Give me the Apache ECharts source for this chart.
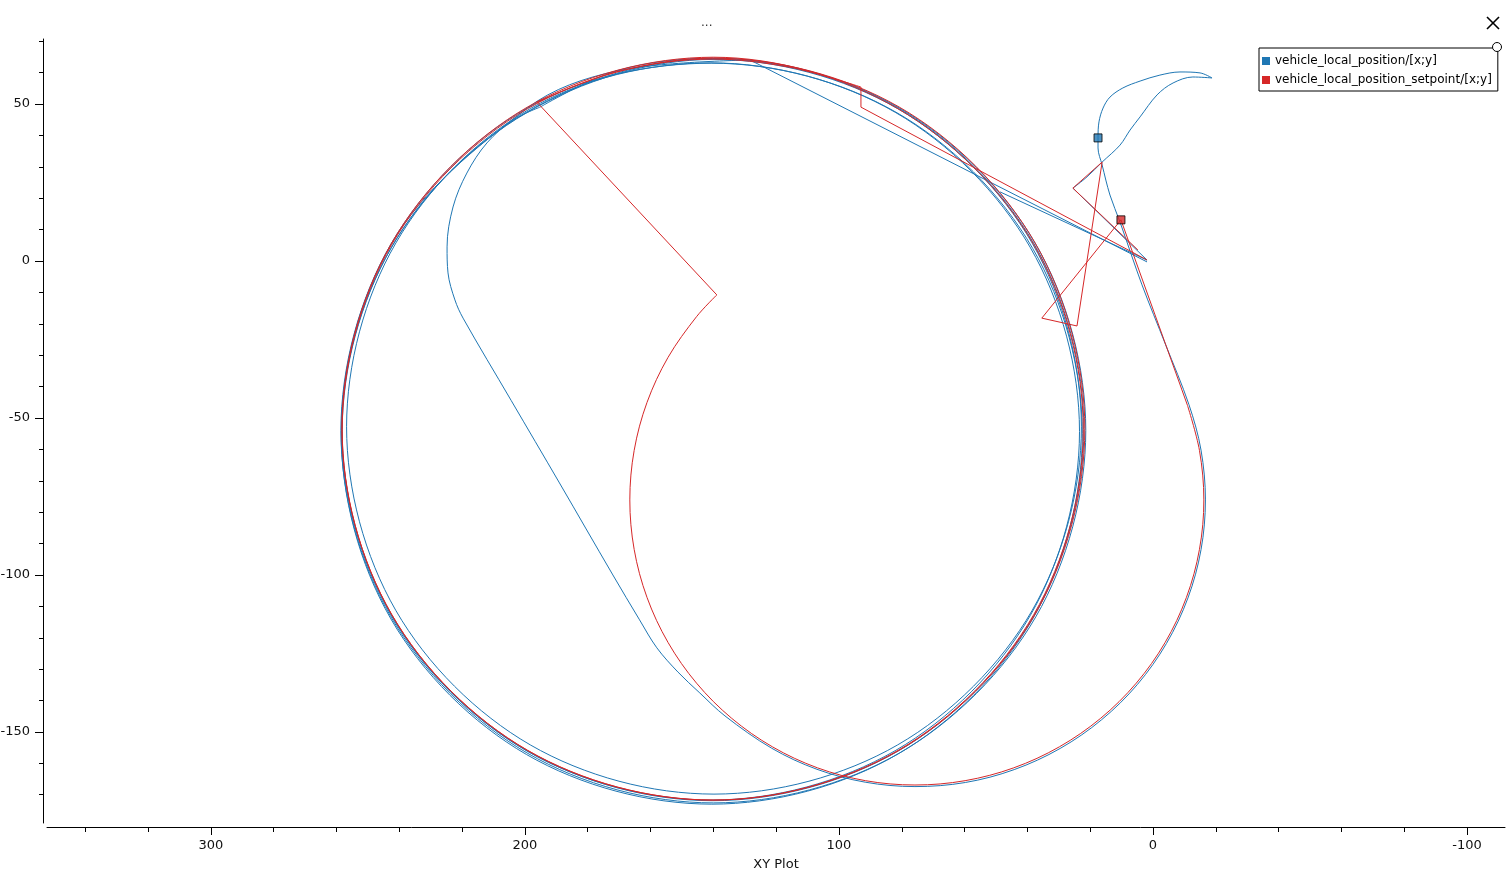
<!DOCTYPE html>
<html><head><meta charset="utf-8">
<script src="https://cdn.jsdelivr.net/npm/echarts@6/dist/echarts.min.js"></script>
<style>html,body{margin:0;padding:0;background:#fff}#c{width:1507px;height:880px}</style>
</head><body><div id="c"></div>
<script>
// ---- tick labels ----
const xMajor = [-100, 0, 100, 200, 300];
const xMinor = [-80, -60, -40, -20, 20, 40, 60, 80, 120, 140, 160, 180, 220, 240, 260, 280, 320, 340];
const yMajor = [-150, -100, -50, 0, 50];
const yMinor = [-170, -160, -140, -130, -120, -110, -90, -80, -70, -60, -40, -30, -20, -10, 10, 20, 30, 40, 60, 70];
const seriesNames = ['vehicle_local_position/[x;y]', 'vehicle_local_position_setpoint/[x;y]'];

// ---- vehicle_local_position (blue) ----
const blueApproach = [[1.9, -0.3], [128.3, 64.0]];
const blueOrbit = [
  [128.3, 64.0], [170.8, 60.5],
  [199.3, 48.66], [242.56, 5.4], [258.4, -53.7], [242.56, -112.8], [199.3, -156.06], [140.2, -171.9], [81.1, -156.06], [37.84, -112.8],
  [22.0, -53.7], [37.84, 5.4], [81.1, 48.66], [140.2, 64.5],
  [199.5, 47.37], [242.47, 4.4], [258.2, -54.3], [242.47, -113.0], [199.5, -155.97], [140.8, -171.7], [82.1, -155.97], [39.13, -113.0],
  [23.4, -54.3], [39.13, 4.4], [82.1, 47.37], [140.8, 63.1],
  [198.3, 48.52], [241.12, 5.7], [256.8, -52.8], [241.12, -111.3], [198.3, -154.12], [139.8, -169.8], [81.3, -154.12], [38.48, -111.3],
  [22.8, -52.8], [38.48, 5.7], [81.3, 48.52], [139.8, 64.2],
  [199.5, 47.19], [242.69, 4.0], [258.5, -55.0], [242.69, -114.0], [199.5, -157.19], [140.5, -173.0], [81.5, -157.19], [38.31, -114.0],
  [22.5, -55.0], [38.31, 4.0], [81.5, 47.19], [140.5, 63.0],
  [199.3, 48.71], [242.71, 5.3], [258.6, -54.0], [242.71, -113.3], [199.3, -156.71], [140.0, -172.6], [80.7, -156.71], [37.29, -113.3],
  [21.4, -54.0], [37.29, 5.3], [80.7, 48.71], [140.0, 64.6], [170.7, 60.6],
  [195.2, 49.0]
];
const blueReturn = [
  [195.2, 49.0], [203.8, 44.9], [212.1, 37.6], [218.5, 28.0], [222.9, 17.2], [224.8, 4.5], [224.5, -3.8], [222.3, -12.4], [219.7, -18.2],
  [204.4, -44.4], [189.0, -70.7], [172.0, -100.0], [163.5, -114.3], [158.0, -123.2], [151.3, -130.9], [144.3, -137.6], [136.3, -144.9],
  [121.45, -155.17], [107.0, -161.9], [91.65, -166.0], [75.8, -167.4], [59.74, -166.1], [44.2, -162.0], [29.55, -155.25], [16.34, -146.1],
  [4.94, -134.85], [-4.3, -121.8], [-11.12, -107.36], [-15.3, -91.97], [-16.7, -76.1], [-15.3, -60.23], [-11.45, -45.74], [-4.0, -26.6],
  [3.5, -7.6], [10.5, 12.4], [13.7, 21.0], [16.2, 30.6], [17.5, 36.0], [17.5, 39.2], [17.2, 44.3], [15.9, 48.7], [13.7, 52.2], [9.6, 55.1],
  [4.1, 57.3], [-2.2, 59.2], [-8.6, 60.2], [-15.0, 59.9], [-18.8, 58.3]
];
const blueHook = [[-18.8, 58.3], [-12.7, 58.6], [-6.4, 56.7], [-1.3, 52.9], [4.1, 45.9], [7.3, 41.7], [10.5, 36.9], [16.2, 31.5], [21.0, 26.8], [25.5, 23.2]];
const blueHomeA = [[25.5, 23.2], [1.9, 0.3]];
const blueHomeB = [[48.7, 22.0], [1.9, 0.3]];
const blueMarker = [17.5, 39.2];

// ---- vehicle_local_position_setpoint (red) ----
const redApproach = [[1.9, 0.3], [93.0, 49.0], [93.0, 55.4]];
const redOrbit = [
  [93.0, 55.4], [115.7, 61.7],
  [140.2, 64.3], [199.2, 48.49], [242.39, 5.3], [258.2, -53.7], [242.39, -112.7], [199.2, -155.89], [140.2, -171.7], [81.2, -155.89],
  [38.01, -112.7], [22.2, -53.7], [38.01, 5.3], [81.2, 48.49],
  [140.0, 64.9], [199.15, 49.05], [242.45, 5.75], [258.3, -53.4], [242.45, -112.55], [199.15, -155.85], [140.0, -171.7], [80.85, -155.85],
  [37.55, -112.55], [21.7, -53.4], [37.55, 5.75], [80.85, 49.05],
  [140.1, 64.6], [170.7, 60.3], [196.2, 50.6]
];
const redJump = [[196.2, 50.6], [138.9, -10.8]];
const redReturn = [
  [138.9, -10.8], [145.35, -17.73], [154.43, -30.7], [161.13, -45.05], [165.22, -60.34], [166.6, -76.1], [165.22, -91.86],
  [161.13, -107.15], [154.43, -121.5], [145.35, -134.47], [134.17, -145.65], [121.2, -154.73], [106.85, -161.43], [91.56, -165.52],
  [75.8, -166.9], [59.83, -165.52], [44.34, -161.43], [29.8, -154.73], [16.66, -145.65], [5.33, -134.47], [-3.87, -121.5],
  [-10.65, -107.15], [-14.8, -91.86], [-16.2, -76.1], [-14.8, -60.34], [-10.97, -45.94]
];
const redDescent = [[-10.97, -45.94], [10.2, 13.1]];
const redLanding = [[10.2, 13.1], [35.4, -18.2], [24.2, -20.7], [16.2, 31.5], [25.5, 23.2], [4.8, 3.5]];
const redMarker = [10.2, 13.1];

const BLUE = '#1f77b4', RED = '#d62728';
const FONT = 'DejaVu Sans';

function lineSeries(name, color, data, smooth) {
  return {
    name: name, type: 'line', data: data, smooth: smooth ? 0.34 : false,
    showSymbol: false, symbol: 'none', silent: true, animation: false,
    lineStyle: { color: color, width: 1 }, itemStyle: { color: color }
  };
}
function markerSeries(name, color, pt) {
  return {
    name: name, type: 'scatter', data: [pt], symbol: 'rect', symbolSize: 8, silent: true, animation: false, z: 5,
    itemStyle: { color: color, borderColor: '#000', borderWidth: 1 }
  };
}

const axisCommonX = { type: 'value', inverse: true, min: -112.1, max: 352.2, position: 'bottom', offset: 4, splitLine: { show: false } };
const axisCommonY = { type: 'value', min: -179, max: 70.7, position: 'left', offset: 4, splitLine: { show: false } };

const chart = echarts.init(document.getElementById('c'));
chart.setOption({
  animation: false,
  backgroundColor: '#fff',
  grid: { left: 47, right: 2, top: 39, bottom: 57, containLabel: false, outerBoundsMode: 'none' },
  legend: {
    data: seriesNames.map(n => ({ name: n, icon: 'rect' })),
    orient: 'vertical', left: 1259, top: 48, itemWidth: 8, itemHeight: 8, itemGap: 7,
    padding: [7, 6, 5, 3], backgroundColor: '#fff', borderColor: '#000', borderWidth: 1, borderRadius: 0,
    textStyle: { color: '#000', fontSize: 12, fontFamily: FONT }, selectedMode: false
  },
  xAxis: [
    Object.assign({}, axisCommonX, {
      axisLine: { show: true, onZero: false, lineStyle: { color: '#000', width: 1 } },
      axisTick: { show: true, length: 8, customValues: xMajor, lineStyle: { color: '#000' } },
      axisLabel: { show: true, customValues: xMajor, margin: 12, color: '#111', fontSize: 13, fontFamily: FONT },
      name: 'XY Plot', nameLocation: 'middle', nameGap: 31,
      nameTextStyle: { color: '#111', fontSize: 13, fontFamily: FONT }
    }),
    Object.assign({}, axisCommonX, {
      axisLine: { show: false, onZero: false },
      axisTick: { show: true, length: 5, customValues: xMinor, lineStyle: { color: '#000' } },
      axisLabel: { show: false }
    })
  ],
  yAxis: [
    Object.assign({}, axisCommonY, {
      axisLine: { show: true, onZero: false, lineStyle: { color: '#000', width: 1 } },
      axisTick: { show: true, length: 8, customValues: yMajor, lineStyle: { color: '#000' } },
      axisLabel: { show: true, customValues: yMajor, margin: 13, color: '#111', fontSize: 13, fontFamily: FONT }
    }),
    Object.assign({}, axisCommonY, {
      axisLine: { show: false, onZero: false },
      axisTick: { show: true, length: 4, customValues: yMinor, lineStyle: { color: '#000' } },
      axisLabel: { show: false }
    })
  ],
  series: [
    lineSeries(seriesNames[0], BLUE, blueApproach, false),
    lineSeries(seriesNames[0], BLUE, blueOrbit, true),
    lineSeries(seriesNames[0], BLUE, blueReturn, true),
    lineSeries(seriesNames[0], BLUE, blueHook, true),
    lineSeries(seriesNames[0], BLUE, blueHomeA, false),
    lineSeries(seriesNames[0], BLUE, blueHomeB, false),
    lineSeries(seriesNames[1], RED, redApproach, false),
    lineSeries(seriesNames[1], RED, redOrbit, true),
    lineSeries(seriesNames[1], RED, redJump, false),
    lineSeries(seriesNames[1], RED, redReturn, true),
    lineSeries(seriesNames[1], RED, redDescent, false),
    lineSeries(seriesNames[1], RED, redLanding, false),
    markerSeries(seriesNames[0], BLUE, blueMarker),
    markerSeries(seriesNames[1], RED, redMarker)
  ],
  graphic: [
    { type: 'text', left: 701, top: 17, style: { text: '...', fill: '#333', font: '12px "DejaVu Sans"' } },
    { type: 'line', shape: { x1: 1487, y1: 17, x2: 1499, y2: 29 }, style: { stroke: '#000', lineWidth: 1.6 } },
    { type: 'line', shape: { x1: 1499, y1: 17, x2: 1487, y2: 29 }, style: { stroke: '#000', lineWidth: 1.6 } },
    { type: 'circle', shape: { cx: 1497, cy: 47, r: 4.5 }, style: { fill: '#fff', stroke: '#000', lineWidth: 1 }, z: 100 }
  ]
});
</script>
</body></html>
